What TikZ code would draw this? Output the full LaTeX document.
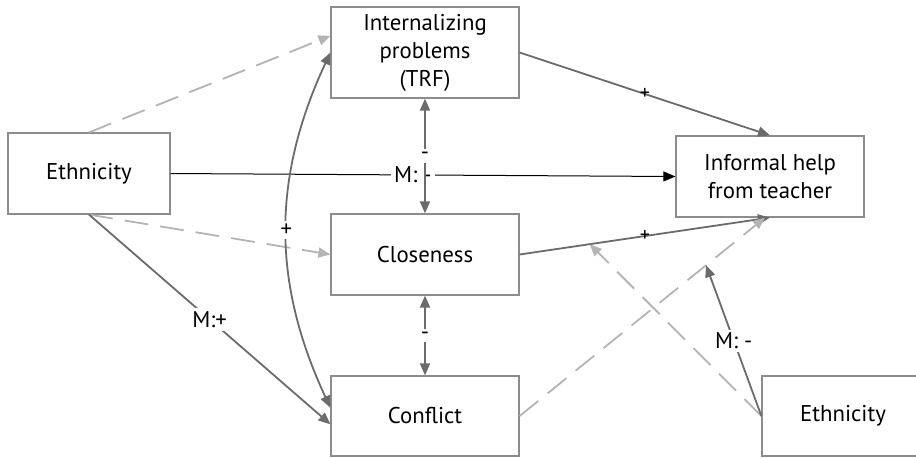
\documentclass[tikz,border=0pt]{standalone}
\usepackage{fontspec}
\setmainfont{PT Sans}
\usetikzlibrary{arrows.meta}

\definecolor{darkline}{HTML}{6B6B6B}
\definecolor{lightline}{HTML}{B4B4B4}
\definecolor{boxline}{HTML}{8C8C8C}

\begin{document}
\begin{tikzpicture}[x=0.5pt,y=-0.5pt,
    box/.style={draw=boxline,line width=0.6pt,minimum width=94pt,minimum height=40.5pt,
      align=center,inner sep=0pt,font=\fontsize{11.4}{14}\selectfont},
    solidarrow/.style={darkline,line width=0.9pt,-{Triangle[length=6pt,width=5pt]}},
    twoway/.style={darkline,line width=0.9pt,{Triangle[length=6pt,width=5pt]}-{Triangle[length=6pt,width=5pt]}},
    dasharrow/.style={lightline,line width=0.9pt,dash pattern=on 12pt off 6pt,-{Triangle[length=6pt,width=5pt]}},
    lbl/.style={fill=white,inner sep=1.5pt,text=black,font=\fontsize{11.4}{13}\selectfont},
    plus/.style={inner sep=0pt,text=black,font=\fontsize{10}{12}\selectfont}]

    \useasboundingbox (0,0) rectangle (916,457);

    % draw boxes
    \node[box,minimum width=81pt] (ethL) at (89,173.5) {Ethnicity};
    \node[box,minimum height=45.5pt] (int) at (425,52.5) {Internalizing\\problems\\(TRF)};
    \node[box] (clo) at (425,254.5) {Closeness};
    \node[box,minimum height=40pt] (con) at (425,416) {Conflict};
    \node[box] (help) at (770,176.5) {Informal help\\from teacher};
    \node[box,minimum width=81pt,minimum height=40pt] (ethR) at (843,416) {Ethnicity};

    % paths into the outcome
    \draw[solidarrow] (int.east) -- node[plus,pos=0.5] {+} (help.north);
    \draw[solidarrow] (clo.east) -- coordinate[pos=0.28] (mclo) node[plus,pos=0.5] {+} (help.south);
    \draw[dasharrow] (con.east) -- coordinate[pos=0.76] (mcon) (help.263);
    \draw[black,line width=0.5pt,-{Triangle[length=6pt,width=5pt]}] (ethL.east) -- node[lbl,pos=0.48] {M: -} (help.west);

    % paths from ethnicity
    \draw[dasharrow] (ethL.north) -- (int.170);
    \draw[dasharrow] (ethL.south) -- (clo.west);
    \draw[solidarrow] (ethL.south) -- node[lbl,pos=0.5] {M:+} (con.185);

    % covariances
    \draw[twoway] (int.west) to[bend right=25] node[lbl] {+} (con.175);
    \draw[twoway] (int.south) -- node[lbl] {-} (clo.north);
    \draw[twoway] (clo.south) -- node[lbl] {-} (con.north);

    % moderation
    \draw[dasharrow] (ethR.west) -- (mclo);
    \draw[solidarrow] (ethR.west) -- node[lbl,pos=0.5] {M: -} (mcon);

\end{tikzpicture}
\end{document}
